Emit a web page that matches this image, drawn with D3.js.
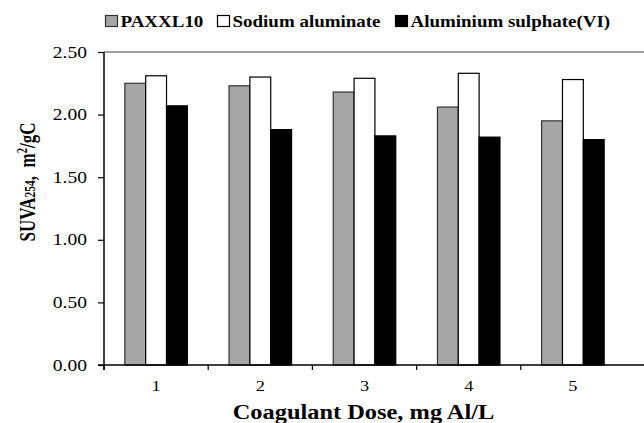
<!DOCTYPE html>
<html>
<head>
<meta charset="utf-8">
<script src="https://cdnjs.cloudflare.com/ajax/libs/d3/7.8.5/d3.min.js"></script>
<style>
  body { margin: 0; background: #fff; }
  svg text { font-family: "Liberation Serif", "Times New Roman", serif; fill: #000; }
</style>
</head>
<body>
<div id="chart"></div>
<script>
// data
var doses = ["1", "2", "3", "4", "5"];
var seriesNames = ["PAXXL10", "Sodium aluminate", "Aluminium sulphate(VI)"];
var paxValues = [2.25, 2.23, 2.18, 2.06, 1.95];
var sodiumValues = [2.31, 2.30, 2.29, 2.33, 2.28];
var sulphateValues = [2.07, 1.88, 1.83, 1.82, 1.80];
var yTicks = [0, 0.5, 1.0, 1.5, 2.0, 2.5];

var seriesColors = ["#a6a6a6", "#ffffff", "#000000"];
var seriesStrokes = ["#333333", "#000000", "#000000"];

var svgWidth = 644, svgHeight = 423;
var margin = { top: 52, right: 19, bottom: 58, left: 104 };
var chartWidth = svgWidth - margin.left - margin.right;
var chartHeight = svgHeight - margin.top - margin.bottom;

// the original figure has its text stretched sideways
var stretch = 1.22;

var svg = d3.select("#chart").append("svg")
  .attr("width", svgWidth)
  .attr("height", svgHeight);

var chartGroup = svg.append("g")
  .attr("transform", `translate(${margin.left}, ${margin.top})`);

// build table from the arrays
var table = doses.map(function(d, i) {
  return { dose: d, values: [paxValues[i], sodiumValues[i], sulphateValues[i]] };
});

var xScale = d3.scaleBand().domain(doses).range([0, chartWidth]).padding(0);
var xSub = d3.scaleBand().domain(d3.range(seriesNames.length))
  .range([xScale.bandwidth() * 0.2, xScale.bandwidth() * 0.8]).padding(0);
var yScale = d3.scaleLinear().domain([0, 2.5]).range([chartHeight, 0]);

// top border line (grey)
chartGroup.append("line")
  .attr("x1", 0).attr("x2", svgWidth - margin.left)
  .attr("y1", 0).attr("y2", 0)
  .attr("stroke", "#a0a0a0").attr("stroke-width", 2);

// bars
var groups = chartGroup.selectAll(".dose")
  .data(table)
  .enter()
  .append("g")
  .attr("class", "dose")
  .attr("transform", d => `translate(${xScale(d.dose)}, 0)`);

groups.selectAll("rect")
  .data(d => d.values)
  .enter()
  .append("rect")
  .attr("x", (v, i) => xSub(i))
  .attr("y", v => yScale(v))
  .attr("width", xSub.bandwidth())
  .attr("height", v => chartHeight - yScale(v))
  .attr("fill", (v, i) => seriesColors[i])
  .attr("stroke", (v, i) => seriesStrokes[i])
  .attr("stroke-width", 1.2);

// y axis
var leftAxis = d3.axisLeft(yScale).tickValues(yTicks)
  .tickFormat(d3.format(".2f")).tickSize(6);
var yAxis = chartGroup.append("g").call(leftAxis);
yAxis.select(".domain").attr("stroke", "#000").attr("stroke-width", 1.5)
  .attr("d", `M0,0V${chartHeight + 5}`);
yAxis.selectAll(".tick line").attr("stroke", "#000").attr("stroke-width", 1.2);
yAxis.selectAll("text")
  .attr("x", null)
  .attr("transform", `translate(-17, 0) scale(${stretch}, 1)`)
  .style("font-size", "16px")
  .style("font-family", "Liberation Serif");

// x axis
var bottomAxis = d3.axisBottom(xScale).tickSize(0);
var xAxis = chartGroup.append("g")
  .attr("transform", `translate(0, ${chartHeight})`)
  .call(bottomAxis);
xAxis.select(".domain").remove();
xAxis.selectAll("text")
  .attr("y", 0)
  .attr("transform", `translate(0, 15) scale(${stretch}, 1)`)
  .style("font-size", "15px")
  .style("font-family", "Liberation Serif");
xAxis.append("line")
  .attr("x1", -6).attr("x2", svgWidth - margin.left)
  .attr("y1", 0).attr("y2", 0)
  .attr("stroke", "#000").attr("stroke-width", 1.5);
xAxis.selectAll(".sep")
  .data(doses)
  .enter()
  .append("line")
  .attr("x1", d => xScale(d)).attr("x2", d => xScale(d))
  .attr("y1", 0).attr("y2", 5)
  .attr("stroke", "#000").attr("stroke-width", 1.2);

// axis titles
svg.append("text")
  .attr("transform", `translate(${margin.left + chartWidth / 2 - 1}, 419) scale(${stretch}, 1)`)
  .attr("text-anchor", "middle")
  .style("font-size", "20px")
  .style("font-weight", "bold")
  .text("Coagulant Dose, mg Al/L");

var yTitle = svg.append("text")
  .attr("transform", `translate(35, 182) rotate(-90) scale(1, 1.35)`)
  .attr("text-anchor", "middle")
  .style("font-size", "17px")
  .style("font-weight", "bold")
  .style("white-space", "pre");
yTitle.append("tspan").text("SUVA");
yTitle.append("tspan").style("font-size", "11.5px").text("254");
yTitle.append("tspan").text(",  m");
yTitle.append("tspan").attr("dy", -6).style("font-size", "10.5px").text("2");
yTitle.append("tspan").attr("dy", 6).text("/gC");

// legend
var legendX = [105, 217, 395];
var legend = svg.selectAll(".legend")
  .data(seriesNames)
  .enter()
  .append("g")
  .attr("class", "legend")
  .attr("transform", (d, i) => `translate(${legendX[i]}, 15)`);

legend.append("rect")
  .attr("x", 0.5).attr("y", 0.5)
  .attr("width", 12).attr("height", 11)
  .attr("fill", (d, i) => seriesColors[i])
  .attr("stroke", (d, i) => seriesStrokes[i])
  .attr("stroke-width", 1.2);

legend.append("text")
  .attr("transform", "translate(15.5, 11.5) scale(1.15, 1)")
  .style("font-size", "16.5px")
  .style("font-weight", "bold")
  .text(d => d);
</script>
</body>
</html>
